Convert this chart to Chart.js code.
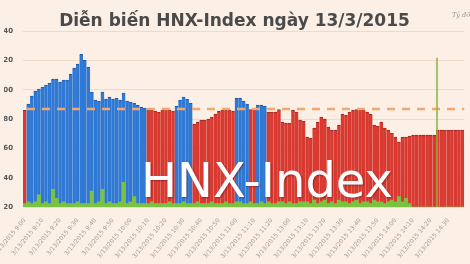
<!DOCTYPE html>
<html><head><meta charset="utf-8">
<script src="https://cdn.jsdelivr.net/npm/chart.js@4"></script>
<style>
html,body{margin:0;padding:0;background:#fcefe5;overflow:hidden;width:470px;height:264px;}
#wrap{position:absolute;left:-10px;top:0;width:480px;height:264px;}
#unit{position:absolute;left:452px;top:11px;font:italic 6.5px "DejaVu Serif";color:#9a8f88;white-space:nowrap;}
#wm{position:absolute;left:141px;top:156px;font:48px/48px "DejaVu Sans";color:#fff;text-shadow:1px 1px 2px rgba(90,0,0,.45);white-space:nowrap;}
</style></head><body>
<div id="wrap"><canvas id="c" width="480" height="264"></canvas></div>
<div id="unit">Tỷ đồng</div>
<div id="wm">HNX-Index</div>
<script>
const refValue = 86.87;
const markerIndex = 117;
const markerTop = 87.22;
const yTickValues = [86.20, 86.40, 86.60, 86.80, 87.00, 87.20, 87.40];
const tickTimes = ["3/13/2015 9:00","3/13/2015 9:10","3/13/2015 9:20","3/13/2015 9:30","3/13/2015 9:40","3/13/2015 9:50",
  "3/13/2015 10:00","3/13/2015 10:10","3/13/2015 10:20","3/13/2015 10:30","3/13/2015 10:40","3/13/2015 10:50",
  "3/13/2015 11:00","3/13/2015 11:10","3/13/2015 11:20","3/13/2015 13:00","3/13/2015 13:10","3/13/2015 13:20",
  "3/13/2015 13:30","3/13/2015 13:40","3/13/2015 13:50","3/13/2015 14:00","3/13/2015 14:10","3/13/2015 14:20","3/13/2015 14:30"];
const indexValues = [
  86.860,86.903,86.958,86.992,87.005,87.019,87.033,87.046,87.074,87.074,
  87.053,87.067,87.067,87.108,87.149,87.176,87.244,87.203,87.156,86.985,
  86.930,86.924,86.985,86.937,86.951,86.937,86.944,86.930,86.978,86.924,
  86.917,86.910,86.896,86.883,86.876,86.862,86.862,86.855,86.848,86.862,
  86.865,86.862,86.855,86.890,86.930,86.951,86.937,86.910,86.767,86.780,
  86.794,86.794,86.801,86.814,86.835,86.855,86.862,86.862,86.862,86.855,
  86.944,86.944,86.924,86.903,86.865,86.865,86.896,86.896,86.889,86.848,
  86.848,86.848,86.866,86.780,86.773,86.773,86.862,86.848,86.794,86.787,
  86.678,86.671,86.739,86.780,86.814,86.801,86.746,86.726,86.726,86.760,
  86.835,86.828,86.848,86.862,86.865,86.865,86.862,86.848,86.835,86.760,
  86.753,86.780,86.739,86.726,86.705,86.678,86.644,86.678,86.678,86.685,
  86.691,86.691,86.691,86.691,86.691,86.691,86.691,86.726,86.726,86.726,
  86.726,86.726,86.726,86.726,86.726];
const volumeValues = [
  2,3,2,3,7,2,3,2,10,5,
  2,3,2,2,2,3,2,2,2,9,
  2,3,10,2,3,2,2,3,14,2,
  3,6,2,2,2,2,3,2,2,2,
  2,3,2,2,2,3,2,2,2,3,
  2,2,2,3,2,2,2,3,2,2,
  3,3,2,2,3,2,2,3,2,3,
  2,2,3,3,2,3,2,2,3,3,
  3,2,4,2,3,4,2,3,2,4,
  3,3,2,3,4,2,3,3,2,4,
  3,3,2,3,4,3,6,3,5,2,
  0,0,0,0,0,0,0,0,0,0,
  0,0,0,0,0];

const labels = indexValues.map((v, i) => i % 5 === 0 ? (tickTimes[i / 5] || '') : '');
const barColors = indexValues.map(v => v >= refValue ? '#2f79d4' : '#d83a31');
const barEdges = indexValues.map(v => v >= refValue ? '#1f5aa6' : '#9e2620');

const overlay = {
  id: 'overlay',
  afterDatasetsDraw(chart) {
    const {ctx, chartArea: a, scales: {x, y}} = chart;
    const yr = y.getPixelForValue(refValue);
    ctx.save();
    ctx.strokeStyle = '#f3a66d'; ctx.lineWidth = 2.5; ctx.setLineDash([8, 7]);
    ctx.beginPath(); ctx.moveTo(a.left + 4, yr); ctx.lineTo(a.right, yr); ctx.stroke();
    const half = (x.getPixelForValue(1) - x.getPixelForValue(0)) / 2;
    const xm = x.getPixelForValue(markerIndex) - half + 1;
    ctx.setLineDash([]); ctx.strokeStyle = '#8cb43c'; ctx.lineWidth = 1.5;
    ctx.beginPath(); ctx.moveTo(xm, y.getPixelForValue(markerTop)); ctx.lineTo(xm, a.bottom); ctx.stroke();
    ctx.restore();
  }
};

new Chart(document.getElementById('c'), {
  type: 'bar',
  data: {
    labels: labels,
    datasets: [
      { data: volumeValues, yAxisID: 'y2', backgroundColor: '#7cc242', barPercentage: 1, categoryPercentage: 1, grouped: false, order: 0 },
      { data: indexValues, yAxisID: 'y', backgroundColor: barColors, borderColor: barEdges,
        borderWidth: { top: 1, left: 0, right: 0, bottom: 0 }, barPercentage: 1, categoryPercentage: 1, grouped: false, order: 1 }
    ]
  },
  options: {
    responsive: false, animation: false, devicePixelRatio: 1,
    layout: { padding: { right: 5, left: 14, top: 0, bottom: 0 } },
    plugins: {
      legend: { display: false }, tooltip: { enabled: false },
      title: { display: true, text: 'Diễn biến HNX-Index ngày 13/3/2015', color: '#4a4a4a',
        font: { family: 'DejaVu Sans', size: 17, weight: 'bold' }, padding: { top: 11, bottom: 0 } }
    },
    scales: {
      x: {
        grid: { display: false }, border: { display: false },
        ticks: { autoSkip: false, minRotation: 50, maxRotation: 50, font: { family: 'DejaVu Sans', size: 6 }, color: '#a39a92', padding: 2 },
        afterFit(s) { s.height = 57; }
      },
      y: {
        min: 86.2, max: 87.4,
        afterBuildTicks(s) { s.ticks = yTickValues.map(v => ({ value: v })); },
        grid: { color: '#efd9cb', drawTicks: false }, border: { display: false },
        ticks: { callback: v => Number(v).toFixed(2), font: { family: 'DejaVu Sans', size: 7, weight: 'bold' }, color: '#555', padding: 10 },
        afterFit(s) { s.width = 19; }
      },
      y2: { display: false, min: 0, max: 100 }
    }
  },
  plugins: [overlay]
});
</script>
</body></html>
